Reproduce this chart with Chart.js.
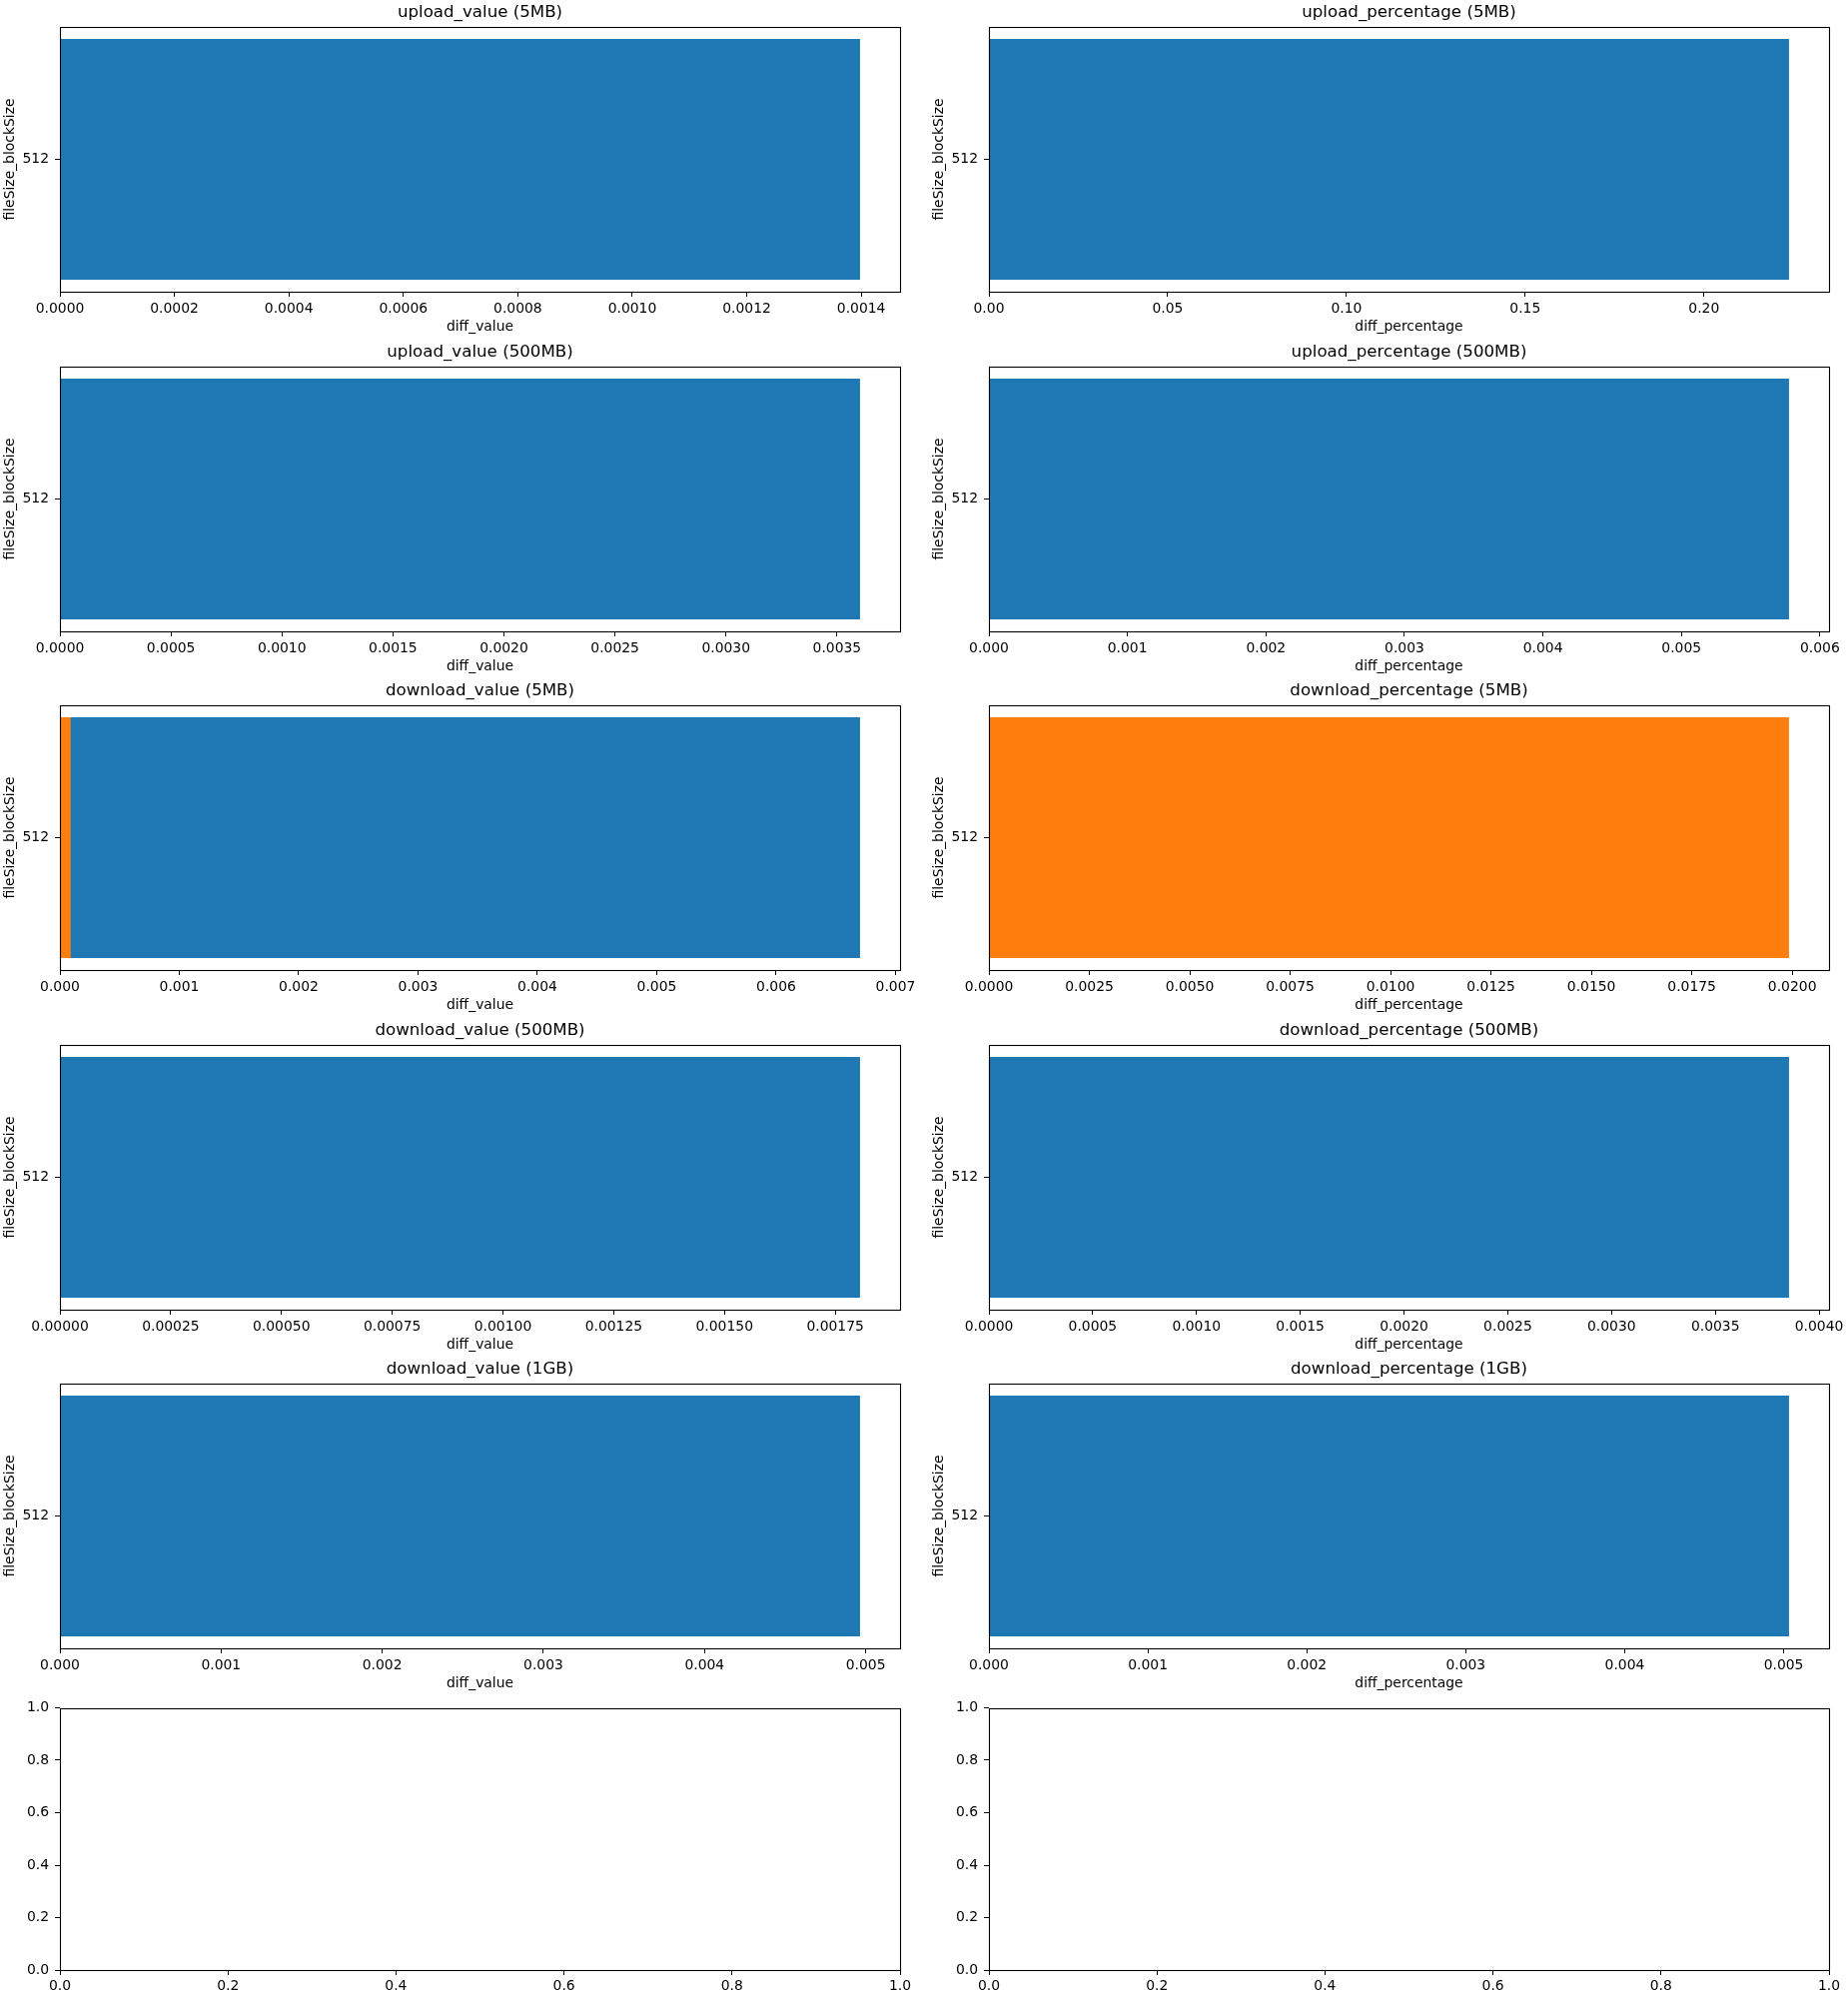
<!DOCTYPE html>
<html>
<head>
<meta charset="utf-8">
<script src="https://cdn.jsdelivr.net/npm/chart.js@4.4.1/dist/chart.umd.min.js"></script>
<style>
  html, body { margin: 0; padding: 0; background: #fff; }
  #fig { position: relative; width: 1850px; height: 2000px; background: #fff; overflow: hidden; }
  #fig canvas { position: absolute; }
</style>
</head>
<body>
<div id="fig"></div>
<script>
// ---------------- DATA ----------------
const categories = ['512'];
const panelTitles = [
  'upload_value (5MB)', 'upload_percentage (5MB)',
  'upload_value (500MB)', 'upload_percentage (500MB)',
  'download_value (5MB)', 'download_percentage (5MB)',
  'download_value (500MB)', 'download_percentage (500MB)',
  'download_value (1GB)', 'download_percentage (1GB)'
];
const xAxisTitles = ['diff_value', 'diff_percentage'];
const yAxisTitle = 'fileSize_blockSize';
const blueSeries = [0.001398, 0.2238, 0.003604, 0.005777, 0.006703, null, 0.001806, 0.003855, 0.004965, 0.005034];
const orangeSeries = [null, null, null, null, 0.00009, 0.01992, null, null, null, null];
const xTickLabels = [
  ['0.0000', '0.0002', '0.0004', '0.0006', '0.0008', '0.0010', '0.0012', '0.0014'],
  ['0.00', '0.05', '0.10', '0.15', '0.20'],
  ['0.0000', '0.0005', '0.0010', '0.0015', '0.0020', '0.0025', '0.0030', '0.0035'],
  ['0.000', '0.001', '0.002', '0.003', '0.004', '0.005', '0.006'],
  ['0.000', '0.001', '0.002', '0.003', '0.004', '0.005', '0.006', '0.007'],
  ['0.0000', '0.0025', '0.0050', '0.0075', '0.0100', '0.0125', '0.0150', '0.0175', '0.0200'],
  ['0.00000', '0.00025', '0.00050', '0.00075', '0.00100', '0.00125', '0.00150', '0.00175'],
  ['0.0000', '0.0005', '0.0010', '0.0015', '0.0020', '0.0025', '0.0030', '0.0035', '0.0040'],
  ['0.000', '0.001', '0.002', '0.003', '0.004', '0.005'],
  ['0.000', '0.001', '0.002', '0.003', '0.004', '0.005']
];
const emptyTickLabels = ['0.0', '0.2', '0.4', '0.6', '0.8', '1.0'];

// ---------------- STYLE / LAYOUT ----------------
const BLUE = '#1f77b4', ORANGE = '#ff7f0e';
const FONT = 'DejaVu Sans';
const tickFont = { family: FONT, size: 13.9, lineHeight: '17px' };
const titleFont = { family: FONT, size: 16.67, weight: 'normal', lineHeight: '20px' };
Chart.defaults.color = '#000';
Chart.defaults.font.family = FONT;

const COLS = [
  { left: 0, yWidth: 60, padRight: 24, yTitlePad: 2 },
  { left: 925, yWidth: 65, padRight: 19, yTitlePad: 7 }
];
const ROW_TOPS = [27, 367, 706, 1046, 1385];
const AX_H = 265;
const CANVAS_W = 925;

const framePlugin = {
  id: 'frame',
  afterDraw(chart) {
    const { ctx, chartArea: a } = chart;
    ctx.save();
    ctx.strokeStyle = '#000';
    ctx.lineWidth = 1.1;
    ctx.strokeRect(Math.round(a.left) + 0.5, Math.round(a.top) + 0.5,
      Math.round(a.right) - Math.round(a.left), Math.round(a.bottom) - Math.round(a.top));
    ctx.restore();
  }
};

const fig = document.getElementById('fig');
function makeCanvas(left, top, w, h) {
  const c = document.createElement('canvas');
  c.width = w; c.height = h;
  c.style.left = left + 'px'; c.style.top = top + 'px';
  c.style.width = w + 'px'; c.style.height = h + 'px';
  fig.appendChild(c);
  return c.getContext('2d');
}

function tickGrid() {
  return { display: true, drawOnChartArea: false, drawTicks: true, tickLength: 5, color: '#000', lineWidth: 1 };
}

// ---------------- BAR PANELS ----------------
panelTitles.forEach((title, i) => {
  const row = Math.floor(i / 2), colIdx = i % 2;
  const col = COLS[colIdx];
  const axTop = ROW_TOPS[row];
  const ctx = makeCanvas(col.left, axTop - 27, CANVAS_W, 340);
  const tickLabels = xTickLabels[i];
  const tickVals = tickLabels.map(Number);
  const vals = [blueSeries[i], orangeSeries[i]].filter(v => v !== null);
  const xMax = Math.max(...vals) * 1.05;

  const datasets = [];
  if (blueSeries[i] !== null) datasets.push({ label: 'blue', data: [blueSeries[i]], backgroundColor: BLUE, borderWidth: 0, order: 1, grouped: false, barPercentage: 0.8 / 0.88, categoryPercentage: 1 });
  if (orangeSeries[i] !== null) datasets.push({ label: 'orange', data: [orangeSeries[i]], backgroundColor: ORANGE, borderWidth: 0, order: 0, grouped: false, barPercentage: 0.8 / 0.88, categoryPercentage: 1 });

  new Chart(ctx, {
    type: 'bar',
    data: { labels: categories, datasets },
    plugins: [framePlugin],
    options: {
      indexAxis: 'y',
      responsive: false,
      animation: false,
      devicePixelRatio: 1,
      layout: { padding: { left: 0, right: col.padRight, top: 0, bottom: 0 } },
      plugins: {
        legend: { display: false },
        tooltip: { enabled: false },
        title: { display: true, text: title, font: titleFont, color: '#000', fullSize: false, padding: { top: 3, bottom: 4 } }
      },
      scales: {
        x: {
          type: 'linear', min: 0, max: xMax,
          grid: tickGrid(),
          border: { display: false },
          afterBuildTicks: s => { s.ticks = tickVals.map(v => ({ value: v })); },
          afterFit: s => { s.height = 48; },
          ticks: { autoSkip: false, maxRotation: 0, font: tickFont, color: '#000', padding: 4,
            callback: (v, idx) => tickLabels[idx] },
          title: { display: true, text: xAxisTitles[colIdx], font: tickFont, color: '#000', padding: { top: 0, bottom: 4 } }
        },
        y: {
          type: 'category', offset: true,
          grid: Object.assign(tickGrid(), { offset: false }),
          border: { display: false },
          afterFit: s => { s.width = col.yWidth; },
          ticks: { font: tickFont, color: '#000', padding: 6 },
          title: { display: true, text: yAxisTitle, font: tickFont, color: '#000', padding: { top: col.yTitlePad, bottom: 0 } }
        }
      }
    }
  });
});

// ---------------- EMPTY PANELS (last row) ----------------
COLS.forEach((col) => {
  const axTop = 1707;
  const ctx = makeCanvas(col.left, axTop - 12, CANVAS_W, 2000 - (axTop - 12));
  const vals = emptyTickLabels.map(Number);
  new Chart(ctx, {
    type: 'scatter',
    data: { datasets: [{ data: [] }] },
    plugins: [framePlugin],
    options: {
      responsive: false,
      animation: false,
      devicePixelRatio: 1,
      layout: { padding: { left: 0, right: col.padRight, top: 12, bottom: 0 } },
      plugins: { legend: { display: false }, tooltip: { enabled: false } },
      scales: {
        x: {
          type: 'linear', min: 0, max: 1,
          grid: tickGrid(), border: { display: false },
          afterBuildTicks: s => { s.ticks = vals.map(v => ({ value: v })); },
          afterFit: s => { s.height = 2000 - (axTop + AX_H); },
          ticks: { autoSkip: false, maxRotation: 0, font: tickFont, color: '#000', padding: 3,
            callback: (v, idx) => emptyTickLabels[idx] }
        },
        y: {
          type: 'linear', min: 0, max: 1,
          grid: tickGrid(), border: { display: false },
          afterBuildTicks: s => { s.ticks = vals.map(v => ({ value: v })); },
          afterFit: s => { s.width = col.yWidth; },
          ticks: { autoSkip: false, font: tickFont, color: '#000', padding: 6,
            callback: (v, idx) => emptyTickLabels[idx] }
        }
      }
    }
  });
});
</script>
</body>
</html>
